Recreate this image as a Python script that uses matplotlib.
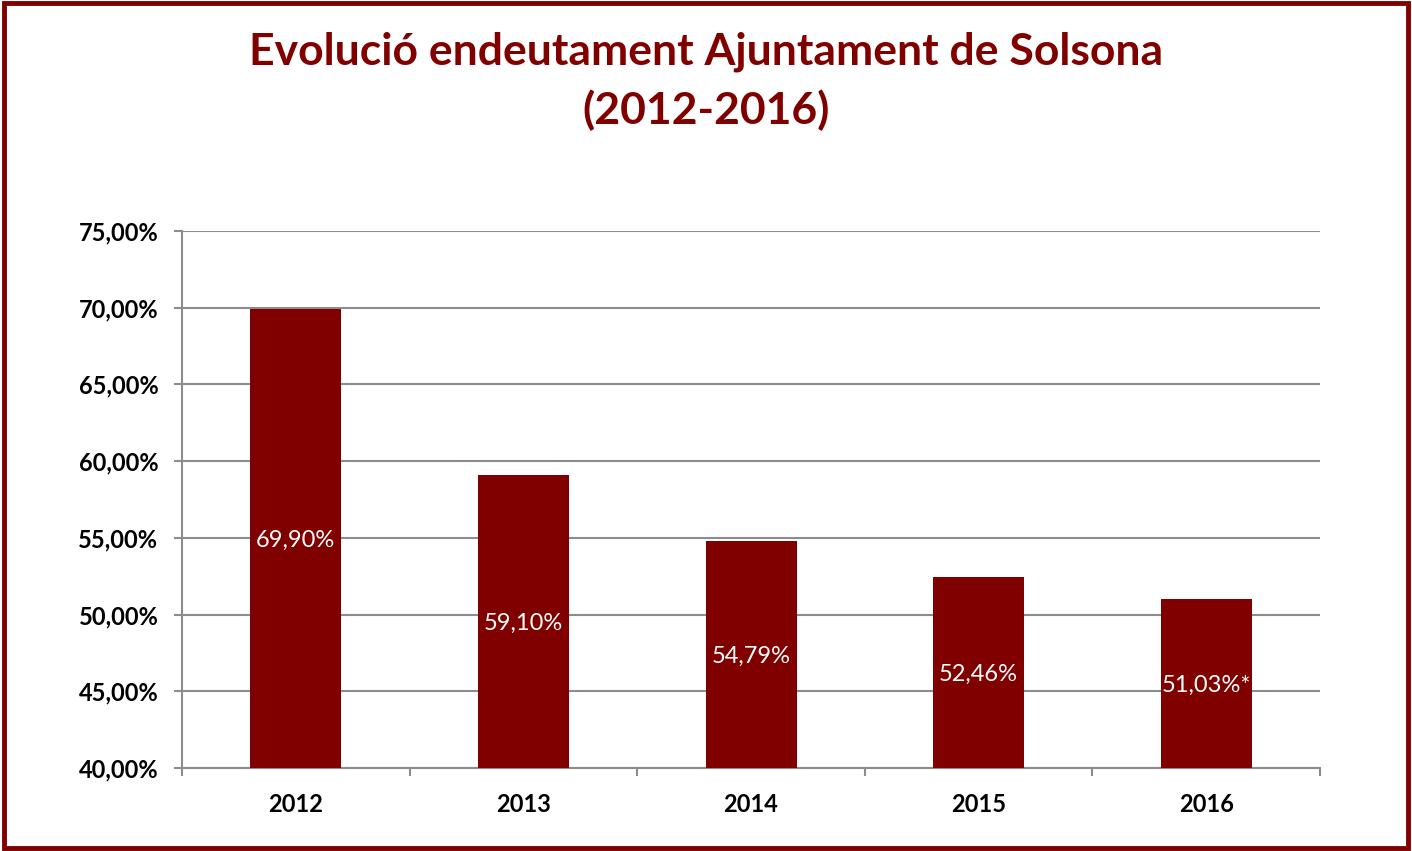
import matplotlib as mpl
mpl.use('Agg')
import matplotlib.pyplot as plt
from matplotlib.patches import Rectangle
import numpy as np

years = ['2012', '2013', '2014', '2015', '2016']
debt = [69.90, 59.10, 54.79, 52.46, 51.03]
bar_labels = ['69,90%', '59,10%', '54,79%', '52,46%', '51,03%*']
yticks = [40, 45, 50, 55, 60, 65, 70, 75]

red = '#800000'
grid = '#8c8c8c'
plt.rcParams['font.family'] = ['Lato', 'DejaVu Sans']

fig = plt.figure(figsize=(14.12, 8.51), dpi=100)
ax = fig.add_axes([0.1289, 0.0975, 0.806, 0.6311])

x = np.arange(len(years))
bars = ax.bar(x, [d - 40 for d in debt], bottom=40, width=0.40, color=red, zorder=3)
for i, b in enumerate(bars):
    ax.text(x[i], 40 + (debt[i] - 40) / 2, bar_labels[i], ha='center', va='center_baseline',
            color='white', fontsize=17, zorder=4)

ax.set_xlim(-0.5, 4.5)
ax.set_ylim(40, 75)
ax.set_yticks(yticks)
ax.set_yticklabels(['%d,00%%' % t for t in yticks], fontsize=17, fontweight='bold')
ax.set_xticks(x)
ax.set_xticklabels(years, fontsize=17, fontweight='bold')
ax.set_xticks(np.arange(-0.5, 5, 1), minor=True)
ax.tick_params(axis='x', which='major', length=0, pad=18)
ax.tick_params(axis='x', which='minor', length=6, width=1.5, color=grid)
ax.tick_params(axis='y', length=6, width=1.5, color=grid, pad=11)
ax.yaxis.grid(True, color=grid, lw=1.5, zorder=0)
for s in ['top', 'right']:
    ax.spines[s].set_visible(False)
for s in ['left', 'bottom']:
    ax.spines[s].set_color(grid)
    ax.spines[s].set_linewidth(1.5)

fig.text(0.5, 1 - 52 / 851, 'Evolució endeutament Ajuntament de Solsona',
         ha='center', va='center', fontsize=32, fontweight='bold', color=red)
fig.text(0.5, 1 - 110 / 851, '(2012-2016)',
         ha='center', va='center', fontsize=32, fontweight='bold', color=red)

fig.patches.append(Rectangle((0.003, 0.004), 0.994, 0.993, transform=fig.transFigure,
                             fill=False, edgecolor=red, lw=3.5))

fig.savefig('out.png', dpi=100)
